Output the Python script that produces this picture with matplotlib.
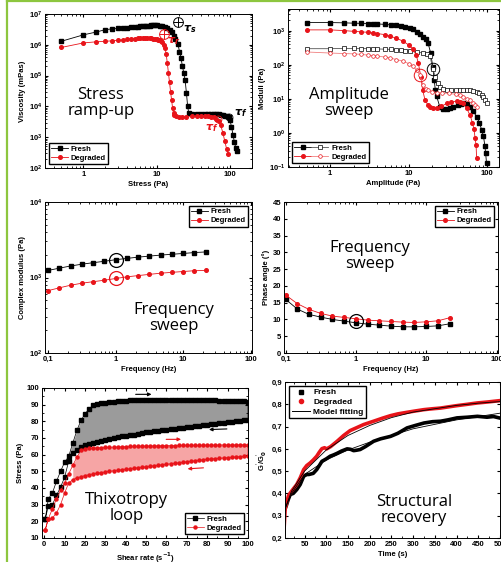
import numpy as np
import matplotlib.pyplot as plt
from matplotlib.lines import Line2D
from matplotlib.legend_handler import HandlerTuple
from matplotlib.ticker import FuncFormatter, MultipleLocator, NullFormatter

# ---- stress ramp-up
stress_f = [0.5, 1, 1.5, 2, 2.5, 3, 3.5, 4, 4.5, 5, 5.5, 6, 6.5, 7, 7.5, 8, 8.5, 9, 9.5, 10, 11, 12, 13, 14,
            15, 16, 17, 18, 19.5, 20.5, 21.5, 22.5, 23.5, 24.5, 25.5, 26.5, 27.5, 30, 35, 40, 45, 50, 55, 60,
            65, 70, 75, 80, 85, 90, 96, 100, 105, 110, 115, 120, 125]
visc_f = [1.3e6, 2.1e6, 2.6e6, 3.1e6, 3.3e6, 3.4e6, 3.5e6, 3.6e6, 3.7e6, 3.8e6, 3.9e6, 4.0e6, 4.1e6, 4.1e6,
          4.2e6, 4.2e6, 4.25e6, 4.3e6, 4.3e6, 4.3e6, 4.2e6, 4.1e6, 3.9e6, 3.6e6, 3.1e6, 2.6e6, 2.0e6, 1.5e6,
          1.1e6, 6e5, 3.7e5, 2e5, 1.2e5, 7e4, 2.7e4, 1e4, 6e3, 5.6e3, 5.6e3, 5.7e3, 5.7e3, 5.7e3, 5.7e3,
          5.6e3, 5.6e3, 5.5e3, 5.4e3, 5.2e3, 5.0e3, 4.8e3, 4.5e3, 3.6e3, 2.2e3, 1.2e3, 7e2, 4.5e2, 3.5e2]
stress_d = [0.5, 1, 1.5, 2, 2.5, 3, 3.5, 4, 4.5, 5, 5.5, 6, 6.5, 7, 7.5, 8, 8.5, 9, 9.5, 10, 10.5, 11, 11.5,
            12, 12.5, 13, 13.5, 14, 14.5, 15, 15.5, 16, 16.5, 17, 17.5, 18.5, 20, 22, 25, 30, 35, 40, 45, 50,
            55, 60, 65, 70, 75, 80, 85, 90, 95]
visc_d = [8.2e5, 1.15e6, 1.25e6, 1.3e6, 1.35e6, 1.4e6, 1.45e6, 1.5e6, 1.55e6, 1.6e6, 1.62e6, 1.65e6,
          1.68e6, 1.7e6, 1.68e6, 1.65e6, 1.62e6, 1.6e6, 1.55e6, 1.5e6, 1.45e6, 1.4e6, 1.3e6, 1.2e6, 1.0e6,
          8e5, 5e5, 2.5e5, 1.2e5, 6e4, 3e4, 1.6e4, 9e3, 6e3, 5.2e3, 4.8e3, 4.6e3, 4.4e3, 4.5e3, 4.7e3,
          4.8e3, 4.8e3, 4.8e3, 4.7e3, 4.6e3, 4.4e3, 4.0e3, 3.4e3, 2.4e3, 1.4e3, 7.5e2, 4.2e2, 2.8e2]

# ---- amplitude sweep
amp_f1 = [0.5, 1, 1.5, 2, 2.5, 3, 3.5, 4, 5, 6, 7, 8, 9, 10.5, 11.5, 12.7, 14, 15.3, 16.5, 17.7, 19.1, 20.3,
          21.2, 21.9, 22.8, 25, 27.5, 30.6, 34, 37.3, 42, 46, 50, 55, 60.8, 66, 73.6, 80, 85.5, 90, 94, 96,
          98.5]
gp_f = [1720, 1720, 1690, 1650, 1630, 1610, 1590, 1570, 1520, 1470, 1420, 1360, 1290, 1180, 1080, 940, 800,
        670, 550, 430, 220, 88, 36, 18, 11.7, 5.8, 5.0, 4.9, 5.2, 5.6, 6.4, 7.0, 7.4, 7.2, 5.8, 4.5, 3.0,
        2.0, 1.2, 0.8, 0.4, 0.25, 0.13]
amp_f2 = [0.5, 1, 1.5, 2, 2.5, 3, 3.5, 4, 5, 6, 7, 8, 9, 10.5, 12.7, 15.3, 17, 18.8, 20.3, 21.9, 23.5, 25,
          27.5, 30.6, 35, 40, 45, 50, 55, 60, 66, 73.6, 80, 85, 90, 94, 98.5]
gpp_f = [295, 295, 300, 300, 298, 295, 292, 290, 285, 280, 275, 268, 260, 246, 235, 220, 200, 175, 76, 45,
         30, 22.6, 19.5, 17.9, 18, 18.3, 18.5, 18.5, 18.3, 17.8, 17, 16, 14.5, 13, 11, 9.5, 7.6]
amp_d1 = [0.5, 1, 1.5, 2, 2.5, 3, 3.56, 4, 5, 5.8, 7, 8.6, 10, 11.5, 12.5, 13.3, 14.3, 15.1, 16.2, 17.5, 18.8,
          20.5, 22.8, 26, 30.6, 35, 41, 45, 50, 55, 60.8, 65, 68, 70.5, 72.5, 73.6]
gp_d = [1050, 1050, 1000, 950, 920, 890, 850, 820, 760, 680, 600, 480, 380, 280, 190, 112, 45, 18, 9.2, 6.8,
        5.8, 5.5, 5.4, 6.0, 7.3, 8.0, 8.5, 8.3, 7.3, 5.2, 3.3, 2.0, 1.3, 0.7, 0.43, 0.18]
amp_d2 = [0.5, 1, 1.5, 2, 2.5, 3, 3.56, 4, 5, 5.8, 7, 8.6, 10, 11.5, 12.7, 13.8, 15.3, 16.5, 17.7, 20, 22.8,
          27, 32.8, 40, 45, 50, 55, 60, 66, 70, 73.6]
gpp_d = [236, 220, 212, 208, 200, 192, 184, 178, 168, 157, 142, 125, 108, 89, 68, 51, 25.4, 20, 18, 16.2,
         15.3, 14.8, 14.4, 13.5, 12.5, 11.4, 10.2, 9, 7.3, 6.5, 5.8]

# ---- frequency sweep
freq = [0.1, 0.147, 0.215, 0.316, 0.464, 0.681, 1, 1.47, 2.15, 3.16, 4.64, 6.81, 10, 14.7, 21.5]
gstar_f = [1240, 1330, 1420, 1500, 1570, 1640, 1720, 1790, 1860, 1920, 1980, 2030, 2080, 2140, 2180]
gstar_d = [670, 730, 790, 840, 880, 920, 970, 1020, 1060, 1100, 1140, 1170, 1200, 1230, 1240]
phase_f = [16.0, 13.1, 11.5, 10.7, 10.0, 9.5, 9.0, 8.6, 8.3, 8.0, 7.8, 7.8, 7.9, 8.1, 8.7]
phase_d = [17.3, 14.7, 13.0, 11.8, 11.0, 10.6, 10.2, 9.8, 9.6, 9.4, 9.2, 9.1, 9.3, 9.6, 10.5]

# ---- thixotropy loop
rate = [0.5, 2, 4, 6, 8, 10, 12, 14, 16, 18, 20, 22, 24, 26, 28, 30, 32, 34, 36, 38, 40, 42, 44, 46, 48, 50,
        52, 54, 56, 58, 60, 62, 64, 66, 68, 70, 72, 74, 76, 78, 80, 82, 84, 86, 88, 90, 92, 94, 96, 98, 100]
up_f = [21.5, 33.5, 37, 44, 50, 55.5, 59, 67, 74.5, 80.5, 84.5, 87.5, 89.5, 90.3, 90.8, 91.2, 91.5, 91.8,
        92, 92.2, 92.4, 92.6, 92.7, 92.8, 92.9, 93, 93, 93.1, 93.1, 93.1, 93.1, 93.1, 93, 93, 93, 92.9, 92.9,
        92.8, 92.8, 92.7, 92.6, 92.5, 92.5, 92.4, 92.3, 92.2, 92.1, 92, 92, 91.9, 91.8]
down_f = [21.5, 29, 30, 35.5, 40.5, 46.5, 56, 61, 63, 64.5, 65.5, 66.5, 67.2, 67.8, 68.4, 69, 69.5, 70,
          70.5, 70.9, 71.3, 71.7, 72.1, 72.5, 72.9, 73.3, 73.7, 74, 74.4, 74.7, 75, 75.3, 75.6, 75.9, 76.2,
          76.5, 76.8, 77.1, 77.4, 77.7, 78, 78.3, 78.6, 78.9, 79.2, 79.5, 79.8, 80.1, 80.4, 80.7, 81]
up_d = [15, 21.5, 27.5, 33.5, 38.5, 43, 48.5, 53.5, 58.5, 62.5, 63.5, 63.8, 64, 64.1, 64.2, 64.3, 64.4,
        64.5, 64.6, 64.7, 64.8, 64.9, 65, 65, 65.1, 65.1, 65.2, 65.2, 65.3, 65.3, 65.4, 65.4, 65.4, 65.5,
        65.5, 65.5, 65.6, 65.6, 65.6, 65.7, 65.7, 65.7, 65.7, 65.8, 65.8, 65.8, 65.8, 65.8, 65.9, 65.9, 65.9]
down_d = [15, 21.5, 22, 25, 30, 37, 43, 45, 46, 46.8, 47.4, 48, 48.4, 48.8, 49.2, 49.6, 50, 50.3, 50.6,
          50.9, 51.2, 51.5, 51.8, 52.1, 52.4, 52.7, 53, 53.3, 53.6, 53.9, 54.2, 54.5, 54.8, 55.1, 55.4, 55.7,
          56, 56.3, 56.6, 56.9, 57.2, 57.4, 57.6, 57.8, 58, 58.2, 58.4, 58.6, 58.8, 59, 59.2]

# ---- structural recovery
t_f = [5, 8, 12, 17, 24, 32, 40, 48, 55, 60, 70, 78, 84, 90, 100, 109, 117, 125, 135, 148, 156, 163, 170,
       178, 190, 209, 225, 248, 265, 286, 305, 325, 345, 363, 380, 401, 425, 448, 470, 485, 498]
rec_f = [0.33, 0.345, 0.37, 0.395, 0.40, 0.417, 0.44, 0.477, 0.485, 0.485, 0.49, 0.507, 0.525, 0.544,
         0.555, 0.567, 0.573, 0.58, 0.59, 0.6, 0.598, 0.592, 0.594, 0.597, 0.61, 0.634, 0.645, 0.656, 0.67,
         0.694, 0.705, 0.716, 0.722, 0.724, 0.73, 0.739, 0.742, 0.746, 0.742, 0.745, 0.739]
t_d = [3, 5.4, 9, 13, 17, 24, 32, 40, 48, 55, 63, 70, 78, 84, 90, 96, 101, 110, 125, 140, 155, 170, 186,
       209, 230, 248, 265, 286, 305, 325, 345, 363, 380, 401, 425, 448, 470, 498]
rec_d = [0.245, 0.33, 0.36, 0.39, 0.402, 0.42, 0.44, 0.47, 0.507, 0.525, 0.537, 0.55, 0.567, 0.585, 0.601,
         0.605, 0.6, 0.61, 0.634, 0.66, 0.682, 0.695, 0.709, 0.724, 0.738, 0.749, 0.757, 0.764, 0.77, 0.776,
         0.78, 0.783, 0.788, 0.794, 0.8, 0.806, 0.81, 0.816]
t_fit = [5, 20, 50, 100, 150, 200, 250, 300, 350, 400, 450, 500]
fit_f = [0.33, 0.40, 0.485, 0.55, 0.595, 0.63, 0.66, 0.69, 0.71, 0.73, 0.745, 0.76]
fit_d = [0.33, 0.41, 0.50, 0.595, 0.66, 0.705, 0.74, 0.765, 0.78, 0.795, 0.805, 0.812]

plt.rcParams.update({'font.family': ['Liberation Sans', 'DejaVu Sans'], 'font.weight': 'bold',
                     'axes.labelweight': 'bold', 'font.size': 5.5,
                     'xtick.direction': 'in', 'ytick.direction': 'in',
                     'xtick.top': True, 'ytick.right': True,
                     'xtick.major.size': 2.5, 'ytick.major.size': 2.5,
                     'xtick.minor.size': 1.4, 'ytick.minor.size': 1.4,
                     'xtick.major.pad': 2, 'ytick.major.pad': 2,
                     'axes.linewidth': 0.7, 'axes.labelpad': 2})

comma = FuncFormatter(lambda v, p: f'{v:g}'.replace('.', ','))
big = dict(family='Open Sans', fontweight='normal', fontsize=12, ha='center', va='center',
           linespacing=1.0)
leg_kw = dict(fancybox=False, edgecolor='black', framealpha=1, fontsize=5.5, handlelength=2.2,
              borderpad=0.3, labelspacing=0.2, handletextpad=0.4)
K, R = 'black', '#e8141a'
mk = dict(ms=2.6, lw=0.6)

fig = plt.figure(figsize=(5.02, 5.62), dpi=100)
W, H = 502, 562


def add_ax(x0, y0, x1, y1):
    return fig.add_axes([x0 / W, 1 - y1 / H, (x1 - x0) / W, (y1 - y0) / H])


# (a) stress ramp-up
ax = add_ax(45, 14, 252, 168)
ax.plot(stress_f, visc_f, 's-', color=K, label='Fresh', **mk)
ax.plot(stress_d, visc_d, 'o-', color=R, label='Degraded', **mk)
ax.set_xscale('log'); ax.set_yscale('log')
ax.set_xlim(0.3, 200); ax.set_ylim(1e2, 1e7)
ax.xaxis.set_major_formatter(comma); ax.xaxis.set_minor_formatter(NullFormatter())
ax.set_xlabel('Stress (Pa)'); ax.set_ylabel('Viscosity (mPas)')
ax.plot([19.5], [5.3e6], 'o', mfc='none', mec=K, ms=7, mew=0.7)
ax.plot([19.5], [5.3e6], '+', color=K, ms=7, mew=0.7)
ax.plot([12.5], [2.2e6], 'o', mfc='none', mec=R, ms=7, mew=0.7)
ax.plot([12.5], [2.2e6], '+', color=R, ms=7, mew=0.7)
ax.plot([96], [4.6e3], 'o', mfc='none', mec=K, ms=5, mew=0.6)
ax.plot([68], [3.9e3], 'o', mfc='none', mec=R, ms=5, mew=0.6)
tau = dict(family='DejaVu Serif', style='italic', fontweight='normal', fontsize=8)
ax.text(23, 2.8e6, r'$\tau_s$', color=K, **tau)
ax.text(14, 1.1e6, r'$\tau_r$', color=R, **tau)
ax.text(112, 5.2e3, r'$\tau_f$', color=K, **tau)
ax.text(46, 1.7e3, r'$\tau_f$', color=R, **tau)
ax.text(0.27, 0.42, 'Stress\nramp-up', transform=ax.transAxes, **big)
ax.legend(loc='lower left', **leg_kw)

# (b) amplitude sweep
ax = add_ax(288, 9, 499, 167)
a1, = ax.plot(amp_f1, gp_f, 's-', color=K, **mk)
a2, = ax.plot(amp_f2, gpp_f, 's-', color='#555555', mfc='white', mec=K, mew=0.5, ms=2.6, lw=0.6)
b1, = ax.plot(amp_d1, gp_d, 'o-', color=R, **mk)
b2, = ax.plot(amp_d2, gpp_d, 'o-', color='#f08080', mfc='white', mec=R, mew=0.5, ms=2.6, lw=0.6)
ax.plot([20.3], [76], 'o', mfc='none', mec=K, ms=9, mew=0.7)
ax.plot([13.8], [51], 'o', mfc='none', mec=R, ms=9, mew=0.7)
ax.set_xscale('log'); ax.set_yscale('log')
ax.set_xlim(0.29, 142); ax.set_ylim(0.1, 4300)
ax.xaxis.set_major_formatter(comma); ax.xaxis.set_minor_formatter(NullFormatter())
ax.set_xlabel('Amplitude (Pa)'); ax.set_ylabel('Moduli (Pa)')
ax.text(0.29, 0.405, 'Amplitude\nsweep', transform=ax.transAxes, **big)
ax.legend([(a1, a2), (b1, b2)], ['Fresh', 'Degraded'], loc='lower left',
          handler_map={tuple: HandlerTuple(ndivide=None, pad=0)}, **dict(leg_kw, handlelength=4.5))

# (c) complex modulus
ax = add_ax(45, 202, 252, 353)
ax.plot(freq, gstar_f, 's-', color=K, label='Fresh', **mk)
ax.plot(freq, gstar_d, 'o-', color=R, label='Degraded', **mk)
ax.plot([1], [1720], 'o', mfc='none', mec=K, ms=10, mew=0.9)
ax.plot([1], [970], 'o', mfc='none', mec=R, ms=10, mew=0.9)
ax.set_xscale('log'); ax.set_yscale('log')
ax.set_xlim(0.09, 105); ax.set_ylim(1e2, 1e4)
ax.xaxis.set_major_formatter(comma); ax.xaxis.set_minor_formatter(NullFormatter())
ax.set_xlabel('Frequency (Hz)'); ax.set_ylabel('Complex modulus (Pa)')
ax.text(0.62, 0.23, 'Frequency\nsweep', transform=ax.transAxes, **big)
ax.legend(loc='upper right', **leg_kw)

# (d) phase angle
ax = add_ax(284, 202, 498, 353)
ax.plot(freq, phase_f, 's-', color=K, label='Fresh', **mk)
ax.plot(freq, phase_d, 'o-', color=R, label='Degraded', **mk)
ax.plot([1], [9.5], 'o', mfc='none', mec=K, ms=10, mew=0.9)
ax.set_xscale('log')
ax.set_xlim(0.095, 105); ax.set_ylim(0, 45)
ax.yaxis.set_major_locator(MultipleLocator(5))
ax.xaxis.set_major_formatter(comma); ax.xaxis.set_minor_formatter(NullFormatter())
ax.set_xlabel('Frequency (Hz)'); ax.set_ylabel('Phase angle (°)')
ax.text(0.40, 0.64, 'Frequency\nsweep', transform=ax.transAxes, **big)
ax.legend(loc='upper right', **leg_kw)

# (e) thixotropy loop
ax = add_ax(42, 388, 248, 538)
r = np.array(rate)
ax.fill_between(r, up_f, down_f, where=r >= 12, color='#9b9b9b', lw=0)
ax.fill_between(r, up_d, down_d, where=r >= 14, color='#f6a5a5', lw=0)
ax.plot(list(r) + list(r[::-1]), up_f + down_f[::-1], 's-', color=K, label='Fresh', ms=2.2, lw=0.5)
ax.plot(list(r) + list(r[::-1]), up_d + down_d[::-1], 'o-', color=R, label='Degraded', ms=2.2, lw=0.5)
arr = dict(arrowstyle='-|>', lw=0.8, mutation_scale=5)
ax.annotate('', xy=(54, 96.2), xytext=(43.5, 96.2), arrowprops=dict(arr, color=K))
ax.annotate('', xy=(79.5, 75), xytext=(91, 75.5), arrowprops=dict(arr, color=K))
ax.annotate('', xy=(68.5, 69.2), xytext=(58.5, 69.2), arrowprops=dict(arr, color=R))
ax.annotate('', xy=(69, 51.4), xytext=(79.5, 52.2), arrowprops=dict(arr, color=R))
ax.set_xlim(-1.1, 100); ax.set_ylim(10, 100)
ax.xaxis.set_major_locator(MultipleLocator(10)); ax.yaxis.set_major_locator(MultipleLocator(10))
ax.xaxis.set_minor_locator(MultipleLocator(5)); ax.yaxis.set_minor_locator(MultipleLocator(5))
ax.set_xlabel('Shear rate (s$^{-1}$)'); ax.set_ylabel('Stress (Pa)')
ax.text(0.41, 0.2, 'Thixotropy\nloop', transform=ax.transAxes, **big)
ax.legend(loc='lower right', **leg_kw)

# (f) structural recovery
ax = add_ax(285, 382, 500, 538)
ax.plot(t_f, rec_f, '-', color=K, lw=2.6)
ax.plot(t_d, rec_d, '-', color=R, lw=2.6)
ax.plot(t_fit, fit_f, '-', color=K, lw=0.6)
ax.plot(t_fit, fit_d, '-', color=K, lw=0.6)
ax.set_xlim(5, 500); ax.set_ylim(0.2, 0.9)
ax.xaxis.set_major_locator(MultipleLocator(50)); ax.yaxis.set_major_locator(MultipleLocator(0.1))
ax.xaxis.set_minor_locator(MultipleLocator(25))
ax.yaxis.set_major_formatter(comma)
ax.set_xlabel('Time (s)'); ax.set_ylabel("G$^{'}$/G$_0^{'}$")
ax.text(0.60, 0.18, 'Structural\nrecovery', transform=ax.transAxes, **big)
hs = [Line2D([], [], marker='s', ls='none', color=K, ms=3),
      Line2D([], [], marker='o', ls='none', color=R, ms=3),
      Line2D([], [], color=K, lw=0.7)]
ax.legend(hs, ['Fresh', 'Degraded', 'Model fitting'], loc='upper left', **dict(leg_kw, fontsize=6))

# green frame lines
fig.add_artist(Line2D([7 / W, 7 / W], [0, 1 - 1 / H], transform=fig.transFigure, color='#8dc63f', lw=1.6))
fig.add_artist(Line2D([7 / W, 1], [1 - 1 / H, 1 - 1 / H], transform=fig.transFigure, color='#8dc63f', lw=1.6))

fig.savefig('out.png', dpi=100)
